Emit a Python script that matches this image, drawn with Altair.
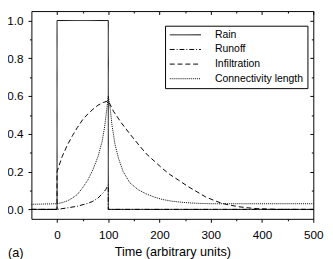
import altair as alt
import pandas as pd

# ---- data ----
series_names = ["Rain", "Runoff", "Infiltration", "Connectivity length"]

rain_t = [-50, 0, 0, 100, 100, 500]
rain_v = [0, 0, 1, 1, 0, 0]

runoff_t = [-50, 0, 20, 40, 60, 70, 80, 90, 95, 100, 100, 500]
runoff_v = [0, 0, 0.008, 0.017, 0.032, 0.043, 0.06, 0.088, 0.105, 0.13, 0, 0]

infil_t = [-50, 0, 0, 10, 20, 30, 40, 50, 60, 70, 80, 90, 100, 110, 125, 142, 160, 174,
           190, 205, 220, 237, 255, 275, 290, 307, 322, 338, 355, 370, 390, 410, 430, 500]
infil_v = [0, 0, 0.2, 0.28, 0.34, 0.39, 0.435, 0.475, 0.505, 0.53, 0.552, 0.566, 0.575, 0.52,
           0.46, 0.40, 0.34, 0.295, 0.255, 0.218, 0.185, 0.155, 0.122, 0.09, 0.066, 0.047,
           0.032, 0.022, 0.014, 0.009, 0.004, 0.002, 0.0, 0.0]

conn_t = [-50, 0, 10, 20, 30, 40, 50, 60, 70, 80, 88, 93, 97, 100, 104, 107, 113, 120, 129,
          142, 158, 174, 190, 205, 225, 250, 275, 300, 500]
conn_v = [0.027, 0.03, 0.036, 0.045, 0.06, 0.08, 0.115, 0.155, 0.21, 0.28, 0.36, 0.44, 0.53,
          0.6, 0.53, 0.45, 0.345, 0.27, 0.2, 0.141, 0.105, 0.082, 0.065, 0.053, 0.043, 0.036,
          0.032, 0.03, 0.03]

x_major = [0, 100, 200, 300, 400, 500]
x_minor = [50, 150, 250, 350, 450]
y_major = [0.0, 0.2, 0.4, 0.6, 0.8, 1.0]
y_minor = [0.1, 0.3, 0.5, 0.7, 0.9]

dash_styles = [[1, 0], [5, 2, 1, 2], [5, 3], [1, 1]]

rows = []
for name, ts, vs in [("Rain", rain_t, rain_v), ("Runoff", runoff_t, runoff_v),
                     ("Infiltration", infil_t, infil_v),
                     ("Connectivity length", conn_t, conn_v)]:
    for i, (t, v) in enumerate(zip(ts, vs)):
        rows.append({"series": name, "t": t, "v": v, "o": i})
df = pd.DataFrame(rows)

FONT = "Liberation Sans"
xs = alt.Scale(domain=[-50, 500], nice=False, zero=False)
ys = alt.Scale(domain=[-0.05, 1.05], nice=False, zero=False)

base = alt.Chart(df)

lines = base.mark_line(strokeWidth=1, color="black").encode(
    x=alt.X("t:Q", scale=xs, axis=alt.Axis(
        orient="bottom", values=sorted(x_major + x_minor), title="Time (arbitrary units)",
        labelExpr="datum.value % 100 === 0 ? datum.label : ''",
        tickSize={"condition": {"test": "datum.value % 100 !== 0", "value": 2}, "value": 3.5},
        labelPadding=8, titlePadding=5, labelFlush=False, labelOverlap=False, domain=False)),
    y=alt.Y("v:Q", scale=ys, axis=alt.Axis(
        orient="left", values=sorted(y_major + y_minor), title=None,
        labelExpr="round(datum.value*10) % 2 === 0 ? format(datum.value, '.1f') : ''",
        tickSize={"condition": {"test": "round(datum.value*10) % 2 !== 0", "value": 2}, "value": 3.5},
        labelPadding=5, labelFlush=False, labelOverlap=False, domain=False)),
    strokeDash=alt.StrokeDash("series:N", scale=alt.Scale(domain=series_names, range=dash_styles),
                              legend=alt.Legend(
                                  title=None, orient="none", legendX=137, legendY=15,
                                  strokeColor="black", fillColor="white", padding=4,
                                  labelFont=FONT, labelFontSize=10.7, labelColor="black",
                                  symbolType="M-4,0H4", symbolSize=64, symbolStrokeWidth=1,
                                  symbolStrokeColor="black", symbolOffset=11.5, labelOffset=25,
                                  rowPadding=3, cornerRadius=0)),
    order=alt.Order("o:Q"),
)

ghost_major = base.mark_point(opacity=0).encode(
    x=alt.X("t:Q", scale=xs, axis=alt.Axis(orient="top", values=x_major, labels=False, title=None,
                                           domain=False, tickSize={"expr": "-3.5"})),
    y=alt.Y("v:Q", scale=ys, axis=alt.Axis(orient="right", values=y_major, labels=False, title=None,
                                           domain=False, tickSize={"expr": "-3.5"})),
)
ghost_minor = base.mark_point(opacity=0).encode(
    x=alt.X("t:Q", scale=xs, axis=alt.Axis(orient="top", values=x_minor, labels=False, title=None,
                                           domain=False, tickSize={"expr": "-2"})),
    y=alt.Y("v:Q", scale=ys, axis=alt.Axis(orient="right", values=y_minor, labels=False, title=None,
                                           domain=False, tickSize={"expr": "-2"})),
)

panel_label = alt.Chart(alt.Data(values=[{"label": "(a)"}])).mark_text(
    align="left", baseline="middle", font=FONT, fontSize=13, color="black"
).encode(x=alt.value(-24), y=alt.value(248), text="label:N")

chart = alt.layer(lines, ghost_major, ghost_minor, panel_label).properties(
    width=289, height=213,
    autosize=alt.AutoSizeParams(type="none"),
    padding={"left": 24, "top": 0, "right": 12, "bottom": 38},
).configure_view(stroke="black", strokeWidth=1).configure_axis(
    grid=False, labelFont=FONT, labelFontSize=12, labelColor="black",
    tickColor="black", tickWidth=1, titleFont=FONT, titleFontSize=13,
    titleFontWeight="normal", titleColor="black",
).configure_legend(
    labelFont=FONT, labelFontSize=10.7, labelColor="black",
)

chart.save("out.html", embed_options={"renderer": "svg", "actions": False})
